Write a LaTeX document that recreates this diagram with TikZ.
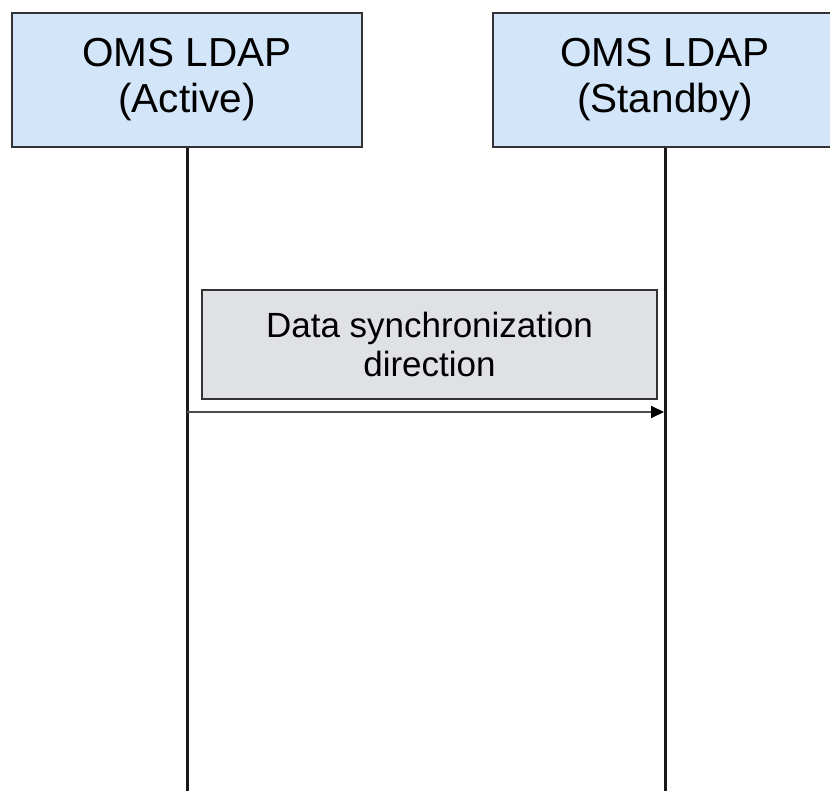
\documentclass[tikz,border=0pt]{standalone}
\usepackage{fontspec}
\setmainfont{Liberation Sans}
\usetikzlibrary{arrows.meta}
\definecolor{boxblue}{HTML}{D3E5F8}
\definecolor{boxgray}{HTML}{DFE1E5}
\definecolor{edge}{HTML}{333333}
\tikzset{
  head/.style={draw=edge, line width=2pt, fill=boxblue, inner sep=0pt, align=center,
    font=\fontsize{40.5}{46}\selectfont},
  note/.style={draw=edge, line width=2pt, fill=boxgray, inner sep=0pt, align=center,
    font=\fontsize{35}{38.5}\selectfont},
  life/.style={draw=black!90, line width=3pt},
  msg/.style={draw=black!70, line width=2pt, -{Triangle[length=13pt,width=12pt,fill=black,color=black]}}
}
\begin{document}
\begin{tikzpicture}[x=1pt,y=-1pt]
\clip (0,0) rectangle (830,791);
\fill[white] (0,0) rectangle (830,791);
\node[head, minimum width=350pt, minimum height=134pt] (a) at (187,80) {OMS LDAP\\(Active)};
\node[head, minimum width=344pt, minimum height=134pt] (s) at (665,80) {OMS LDAP\\(Standby)};
\coordinate (aend) at (187,795);
\coordinate (send) at (665,795);
\draw[life] (a.south) -- (aend);
\draw[life] (s.south) -- (send);
\node[note, minimum width=455pt, minimum height=109pt] (n) at (429.5,344.5) {Data synchronization\\direction};
\coordinate (p1) at (187,412);
\coordinate (p2) at (664,412);
\draw[msg] (p1) -- (p2);
\end{tikzpicture}
\end{document}
